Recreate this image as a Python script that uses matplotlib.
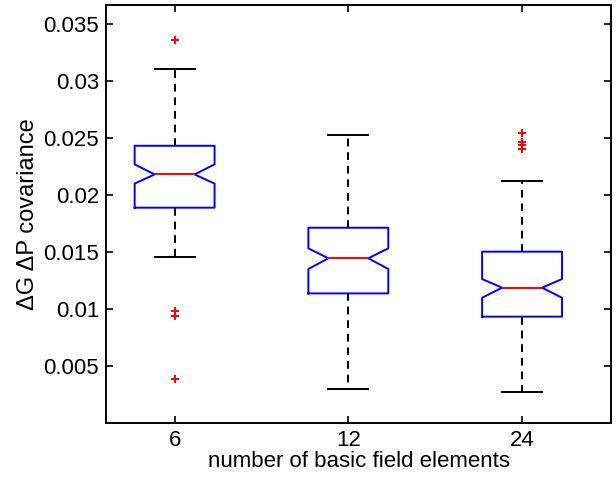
import matplotlib
matplotlib.use("Agg")
import matplotlib.pyplot as plt

# valeurs
groupes = ['6', '12', '24']
medianes = [0.02181, 0.01445, 0.01187]
q1 = [0.01889, 0.01137, 0.00933]
q3 = [0.02432, 0.01713, 0.01503]
cilo = [0.02100, 0.01351, 0.01099]
cihi = [0.02269, 0.01532, 0.01263]
whislo = [0.01453, 0.00296, 0.00275]
whishi = [0.03105, 0.02526, 0.02126]
outliers = [
    [0.0336, 0.00985, 0.00935, 0.00386],
    [],
    [0.02541, 0.02468, 0.02439, 0.02405],
]

plt.rcParams['font.family'] = ['Liberation Sans', 'DejaVu Sans']

stats = []
for i, g in enumerate(groupes):
    stats.append({
        'label': g, 'med': medianes[i], 'q1': q1[i], 'q3': q3[i],
        'cilo': cilo[i], 'cihi': cihi[i],
        'whislo': whislo[i], 'whishi': whishi[i], 'fliers': outliers[i],
    })

fig = plt.figure(figsize=(6.16, 4.82), dpi=100)
ax = fig.add_axes([106 / 616, 1 - 423 / 482, 505 / 616, 418 / 482])

ax.bxp(stats, positions=[1, 2, 3], widths=0.46, shownotches=True, showfliers=True,
       boxprops=dict(color='#0000ff', linewidth=1.4),
       medianprops=dict(color='#ff0000', linewidth=1.4),
       whiskerprops=dict(color='black', linestyle=(0, (4, 3)), linewidth=1.4),
       capprops=dict(color='black', linewidth=1.4),
       capwidths=0.23,
       flierprops=dict(marker='+', markeredgecolor='#ff0000', markersize=6,
                       markeredgewidth=1.4, linestyle='none'))

ax.set_xlim(0.605, 3.512)
ax.set_ylim(0, 0.03667)
ax.set_xticks([1, 2, 3])
ax.set_xticklabels(groupes)
yt = [0.005, 0.01, 0.015, 0.02, 0.025, 0.03, 0.035]
ax.set_yticks(yt)
ax.set_yticklabels(['0.005', '0.01', '0.015', '0.02', '0.025', '0.03', '0.035'])
ax.tick_params(direction='in', top=True, right=True, length=5, width=1.2,
               labelsize=16, pad=5)
for s in ax.spines.values():
    s.set_linewidth(1.4)

ax.set_xlabel('number of basic field elements', fontsize=16, labelpad=0)
ax.set_ylabel('ΔG ΔP covariance', fontsize=17, labelpad=3)

fig.savefig('out.png', dpi=100)
